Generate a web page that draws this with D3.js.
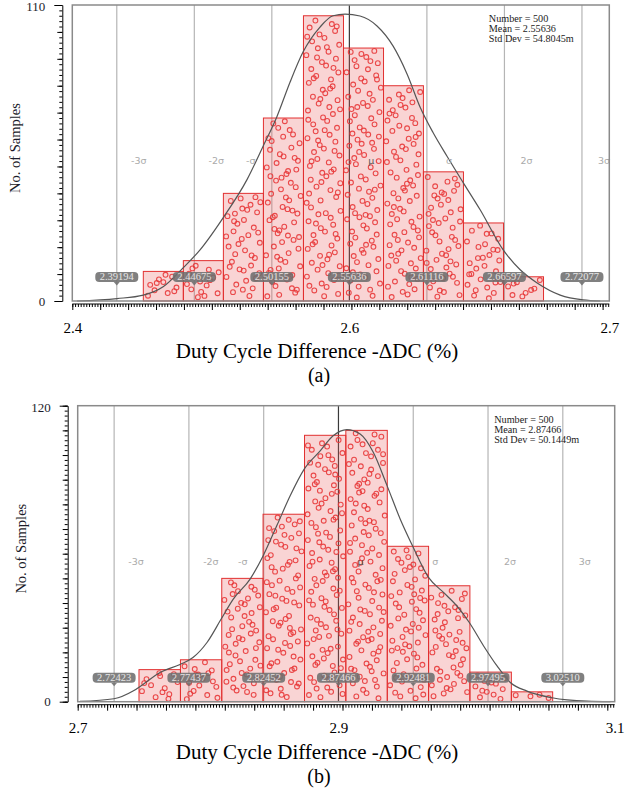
<!DOCTYPE html>
<html>
<head>
<meta charset="utf-8">
<script src="https://cdn.jsdelivr.net/npm/d3@7"></script>
<style>
  body { margin: 0; background: #fff; }
  svg { display: block; }
  svg text { font-family: "Liberation Serif", "Times New Roman", serif; }
  svg text.sname { font-family: "DejaVu Sans", "Liberation Sans", sans-serif; }
</style>
</head>
<body>
<svg id="chart" width="643" height="791"></svg>
<script>
// ---- panel (a) ----
const xDomainA = [2.3605, 2.7401];
const yMaxA = 110;
const binEdgesA = [2.4107, 2.4390, 2.4673, 2.4956, 2.5239, 2.5522, 2.5805, 2.6087, 2.6370, 2.6653, 2.6936];
const countsA = [11, 15, 40, 68, 106, 94, 80, 48, 29, 9];
const sigmaValuesA = ["2.39194", "2.44675", "2.50155", "2.55636", "2.61116", "2.66597", "2.72077"];
const curveXA = [2.3638, 2.3921, 2.4107, 2.4247, 2.4388, 2.4508, 2.4671, 2.4840, 2.4953, 2.5052, 2.5144, 2.5236, 2.5356, 2.5448, 2.5533, 2.5639, 2.5759, 2.5873, 2.5972, 2.6064, 2.6155, 2.6255, 2.6368, 2.6488, 2.6651, 2.6771, 2.6891, 2.7054, 2.7216, 2.7337];
const curveYA = [0, 0.9, 2.2, 5.3, 12.3, 19.0, 30.9, 45.1, 57.4, 68.6, 81.3, 92.5, 101.8, 106.0, 106.6, 105.9, 102.2, 94.7, 84.3, 72.0, 62.6, 53.7, 44.0, 33.9, 19.0, 11.6, 6.7, 2.2, 0.4, 0];
const statsA = ["Number = 500", "Mean = 2.55636", "Std Dev = 54.8045m"];
const xTickLabelsA = ["2.4", "2.6", "2.7"];

// ---- panel (b) ----
const xDomainB = [2.6998, 3.0599];
const yMaxB = 120;
const binEdgesB = [2.7409, 2.7687, 2.7964, 2.8241, 2.8519, 2.8796, 2.9074, 2.9351, 2.9628, 2.9906, 3.0183];
const countsB = [13, 17, 50, 76, 108, 110, 63, 47, 12, 4];
const sigmaValuesB = ["2.72423", "2.77437", "2.82452", "2.87466", "2.92481", "2.97495", "3.02510"];
const curveXB = [2.7013, 2.7241, 2.7369, 2.7436, 2.7550, 2.7684, 2.7771, 2.7865, 2.7959, 2.8040, 2.8154, 2.8241, 2.8335, 2.8422, 2.8517, 2.8624, 2.8711, 2.8803, 2.8892, 2.8980, 2.9071, 2.9161, 2.9243, 2.9349, 2.9451, 2.9541, 2.9624, 2.9720, 2.9810, 2.9901, 3.0011, 3.0179, 3.0414, 3.0570];
const curveYB = [0.1, 1.2, 4.3, 7.0, 11.8, 15.1, 17.9, 24.0, 33.4, 41.5, 49.7, 59.1, 71.6, 83.4, 94.3, 101.7, 107.8, 110.3, 108.5, 101.1, 87.8, 74.0, 63.2, 50.5, 44.3, 38.8, 32.1, 22.6, 14.5, 7.7, 4.3, 1.6, 0.2, 0];
const statsB = ["Number = 500", "Mean = 2.87466", "Std Dev = 50.1449m"];
const xTickLabelsB = ["2.7", "2.9", "3.1"];

// shared
const sigmaNames = ["-3σ", "-2σ", "-σ", "μ", "σ", "2σ", "3σ"];
const xMinorStep = 0.001973;
const xTitle = "Duty Cycle Difference -ΔDC (%)";
const yTitle = "No. of Samples";

const svg = d3.select("#chart");

// deterministic low-discrepancy jitter for the sample markers
function halton(i, b) {
  let f = 1, r = 0;
  while (i > 0) {
    f /= b;
    r += f * (i % b);
    i = Math.floor(i / b);
  }
  return r;
}

function drawPanel(p) {
  const g = svg.append("g").attr("transform", `translate(${p.left},${p.top})`);
  const w = 537, h = 296;

  const x = d3.scaleLinear().domain(p.xDomain).range([0, w]);
  const y = d3.scaleLinear().domain([0, p.yMax]).range([h, 0]);
  const sig = p.sigmas.map(Number);
  const mean = sig[3];

  // sigma lines
  g.selectAll(".sline")
    .data(sig)
    .enter()
    .append("line")
    .attr("x1", d => x(d)).attr("x2", d => x(d))
    .attr("y1", 0).attr("y2", h)
    .attr("stroke", (d, i) => (i === 3 ? "#3a3a3a" : "#b5b5b5"))
    .attr("stroke-width", 1.2);

  // bars
  const bars = p.counts.map((c, i) => ({ x0: p.edges[i], x1: p.edges[i + 1], c }));
  g.selectAll(".bar")
    .data(bars)
    .enter()
    .append("rect")
    .attr("x", d => x(d.x0))
    .attr("y", d => y(d.c))
    .attr("width", d => x(d.x1) - x(d.x0))
    .attr("height", d => h - y(d.c))
    .attr("fill", "rgba(232, 90, 90, 0.26)")
    .attr("stroke", "#e23030")
    .attr("stroke-width", 1);

  // sample markers, one per sample
  let k = p.seed;
  const dots = [];
  bars.forEach(b => {
    const bx = x(b.x0), bw = x(b.x1) - x(b.x0);
    const by = y(b.c), bh = h - y(b.c);
    for (let j = 0; j < b.c; j++) {
      k++;
      dots.push([bx + 2.5 + halton(k, 2) * (bw - 5), by + 2.5 + halton(k, 3) * Math.max(bh - 5, 0)]);
    }
  });
  g.selectAll(".dot")
    .data(dots)
    .enter()
    .append("circle")
    .attr("cx", d => d[0])
    .attr("cy", d => d[1])
    .attr("r", 2.4)
    .attr("fill", "none")
    .attr("stroke", "#e8383a")
    .attr("stroke-opacity", 0.9)
    .attr("stroke-width", 1.1);

  // fitted curve
  const line = d3.line()
    .x(d => x(d[0]))
    .y(d => y(d[1]))
    .curve(d3.curveMonotoneX);
  g.append("path")
    .datum(p.curveX.map((v, i) => [v, p.curveY[i]]))
    .attr("d", line)
    .attr("fill", "none")
    .attr("stroke", "#555")
    .attr("stroke-width", 1.2);

  // sigma names
  g.selectAll(".sname")
    .data(sigmaNames)
    .enter()
    .append("text")
    .attr("class", "sname")
    .attr("x", (d, i) => x(sig[i]) + (i === 2 ? -21 : 22))
    .attr("y", 159)
    .attr("text-anchor", "middle")
    .attr("font-size", 9.5)
    .attr("fill", (d, i) => (i === 3 ? "#555" : "#aaa"))
    .text(d => d);

  // value pills
  const pill = g.selectAll(".pill")
    .data(p.sigmas)
    .enter()
    .append("g")
    .attr("transform", d => `translate(${x(+d)},${h - 19})`)
    .attr("opacity", 0.88);
  pill.append("rect")
    .attr("x", -21.5).attr("y", -10)
    .attr("width", 43).attr("height", 10)
    .attr("rx", 4)
    .attr("fill", "#6f6f6f");
  pill.append("path")
    .attr("d", "M-3,0L0,3.5L3,0Z")
    .attr("fill", "#6f6f6f");
  pill.append("text")
    .attr("y", -1.6)
    .attr("text-anchor", "middle")
    .attr("font-size", 10.5)
    .attr("fill", "#e4e4e4")
    .text(d => d);

  // stats box
  g.selectAll(".stat")
    .data(p.stats)
    .enter()
    .append("text")
    .attr("x", 416.5)
    .attr("y", (d, i) => 17 + i * 10)
    .attr("font-size", 10.2)
    .attr("fill", "#222")
    .text(d => d);

  // frame
  g.append("rect")
    .attr("width", w).attr("height", h)
    .attr("fill", "none")
    .attr("stroke", "#8a8a8a")
    .attr("stroke-width", 1.5);

  // y axis
  const yAxisG = g.append("g").attr("transform", "translate(-10,0)");
  yAxisG.append("g")
    .call(d3.axisLeft(y).tickValues(d3.range(0, p.yMax + 1, 2)).tickSize(3).tickSizeOuter(0).tickFormat(""));
  yAxisG.append("g")
    .call(d3.axisLeft(y).tickValues(d3.range(0, p.yMax + 1, 10)).tickSize(5).tickSizeOuter(0).tickFormat(""))
    .select(".domain").remove();
  yAxisG.append("g")
    .call(d3.axisLeft(y).tickValues([0, p.yMax]).tickSize(8).tickPadding(9).tickSizeOuter(0))
    .call(a => a.select(".domain").remove())
    .selectAll("text")
    .attr("font-size", 13)
    .attr("dy", (d) => (d === 0 ? "0.32em" : "0.42em"))
    .attr("fill", "#1c1c2a");

  // x axis
  const nMinor = Math.floor((p.xDomain[1] - p.xDomain[0]) / xMinorStep + 1e-6);
  const minorVals = d3.range(0, nMinor + 1).map(i => p.xDomain[0] + i * xMinorStep);
  const majorVals = minorVals.filter((d, i) => i % 10 === 0);
  const xAxisG = g.append("g").attr("transform", `translate(0,${h + 3})`);
  xAxisG.append("g")
    .call(d3.axisBottom(x).tickValues(minorVals).tickSize(3).tickSizeOuter(0).tickFormat(""))
    .select(".domain").remove();
  xAxisG.append("g")
    .call(d3.axisBottom(x).tickValues(majorVals).tickSize(6).tickSizeOuter(0).tickFormat(""))
    .select(".domain").remove();
  xAxisG.append("line")
    .attr("x1", 0).attr("x2", w)
    .attr("stroke", "#000");
  xAxisG.append("g")
    .call(d3.axisBottom(x)
      .tickValues([p.xDomain[0], mean, p.xDomain[1]])
      .tickFormat((d, i) => p.xLabels[i])
      .tickSize(0).tickPadding(18))
    .call(a => a.select(".domain").remove())
    .selectAll("text")
    .attr("font-size", 15)
    .attr("fill", "#000");

  // titles
  g.append("text")
    .attr("transform", `translate(-52,${h / 2 - 5}) rotate(-90)`)
    .attr("text-anchor", "middle")
    .attr("font-size", 14.5)
    .attr("fill", "#1c1c2a")
    .text(yTitle);

  g.append("text")
    .attr("x", 317 - p.left)
    .attr("y", h + 57)
    .attr("text-anchor", "middle")
    .attr("font-size", 21)
    .attr("fill", "#000")
    .text(xTitle);

  g.append("text")
    .attr("x", 319 - p.left)
    .attr("y", h + 81)
    .attr("text-anchor", "middle")
    .attr("font-size", 20)
    .attr("fill", "#000")
    .text(p.caption);
}

drawPanel({
  left: 72.3, top: 5, seed: 0,
  xDomain: xDomainA, yMax: yMaxA,
  edges: binEdgesA, counts: countsA, sigmas: sigmaValuesA,
  curveX: curveXA, curveY: curveYA, stats: statsA,
  xLabels: xTickLabelsA, caption: "(a)"
});

drawPanel({
  left: 77.7, top: 405.7, seed: 700,
  xDomain: xDomainB, yMax: yMaxB,
  edges: binEdgesB, counts: countsB, sigmas: sigmaValuesB,
  curveX: curveXB, curveY: curveYB, stats: statsB,
  xLabels: xTickLabelsB, caption: "(b)"
});
</script>
</body>
</html>
